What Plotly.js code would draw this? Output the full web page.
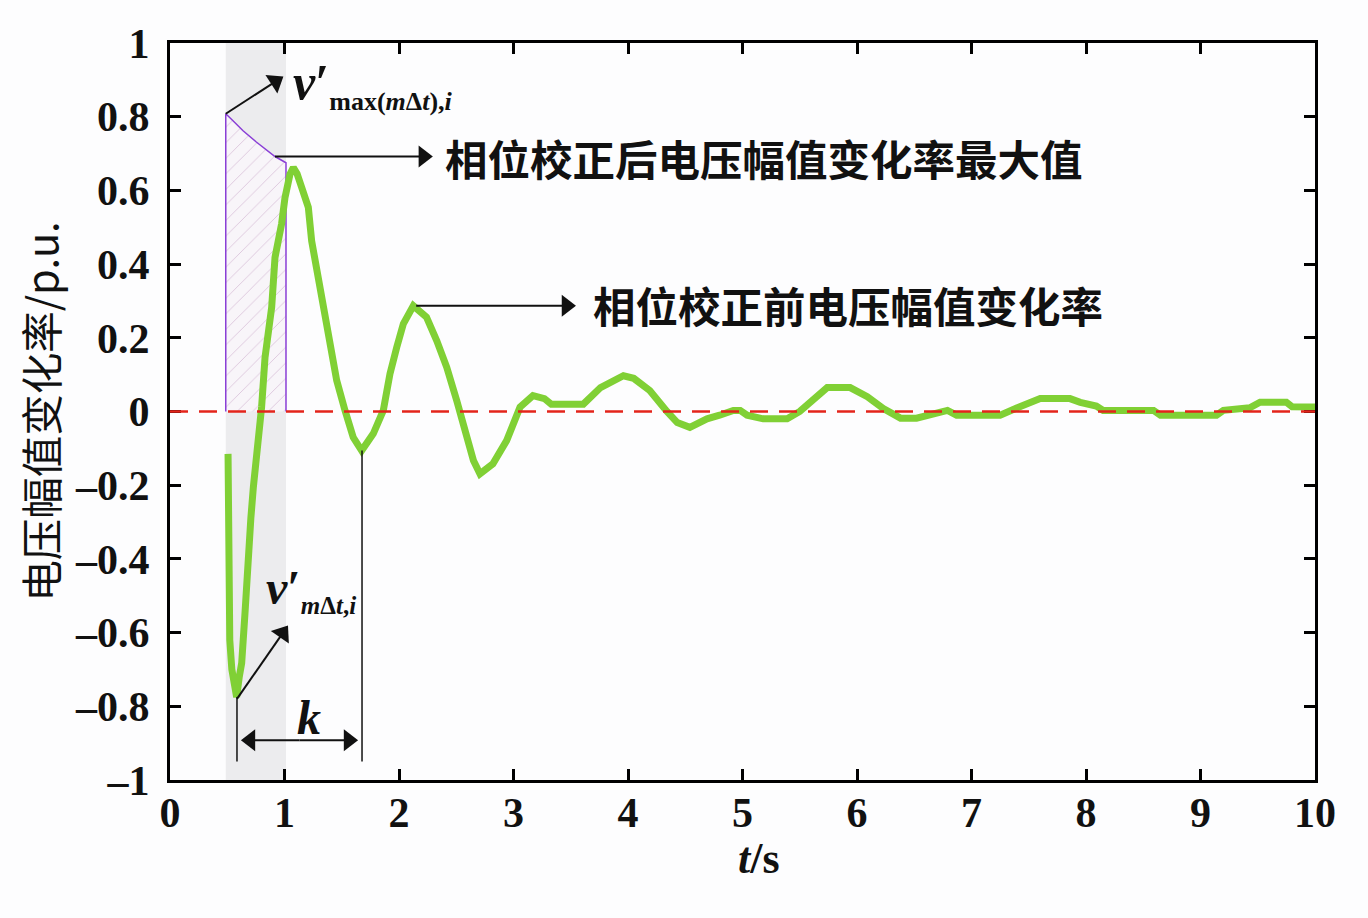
<!DOCTYPE html>
<html>
<head>
<meta charset="utf-8">
<script src="https://cdn.plot.ly/plotly-3.0.1.min.js"></script>
<style>html,body{margin:0;padding:0;background:#fdfdfe;}</style>
</head>
<body>
<div id="chart" style="width:1368px;height:918px;"></div>
<script>
// Voltage amplitude change rate (before phase correction)
const timeS = [0.507,0.512,0.517,0.522,0.54,0.565,0.582,0.605,0.626,0.655,0.684,0.706,0.728,0.757,0.78,0.80,0.83,0.888,0.917,0.945,0.975,1.004,1.048,1.077,1.11,1.15,1.208,1.237,1.31,1.383,1.456,1.528,1.60,1.674,1.776,1.863,1.921,1.98,2.038,2.125,2.24,2.33,2.417,2.504,2.59,2.65,2.707,2.82,2.94,3.057,3.17,3.27,3.33,3.61,3.76,3.96,4.05,4.19,4.34,4.43,4.54,4.69,4.80,4.92,4.98,5.04,5.18,5.39,5.50,5.74,5.94,6.09,6.23,6.38,6.52,6.72,6.79,6.87,7.25,7.40,7.60,7.86,7.95,8.09,8.15,8.59,8.65,9.14,9.20,9.43,9.52,9.75,9.80,10.0];
const rateBefore = [-0.115,-0.30,-0.50,-0.62,-0.70,-0.76,-0.775,-0.72,-0.683,-0.547,-0.368,-0.29,-0.205,-0.124,-0.06,0.012,0.147,0.283,0.418,0.46,0.51,0.58,0.644,0.662,0.645,0.608,0.554,0.463,0.328,0.192,0.084,0.003,-0.07,-0.106,-0.06,0.003,0.102,0.174,0.238,0.287,0.256,0.192,0.12,0.03,-0.06,-0.133,-0.169,-0.142,-0.079,0.012,0.043,0.035,0.02,0.02,0.065,0.097,0.09,0.057,0.0,-0.03,-0.043,-0.02,-0.01,0.003,0.003,-0.01,-0.02,-0.02,0.0,0.065,0.065,0.04,0.008,-0.018,-0.018,-0.005,0.003,-0.01,-0.01,0.01,0.035,0.035,0.025,0.015,0.003,0.003,-0.01,-0.01,0.003,0.01,0.025,0.025,0.013,0.012];

// Corrected max-rate curve (hatched region top edge)
const windowT = [0.487,0.487,0.55,0.638,0.751,0.838,0.917,1.013,1.013];
const windowV = [0,0.808,0.789,0.762,0.732,0.710,0.692,0.675,0];

// Window (shaded band) and marker positions
const bandT = [0.487, 1.013];
const troughT = 0.585, troughV = -0.775;
const secondTroughT = 1.677, secondTroughV = -0.106;
const secondPeakT = 2.15, secondPeakV = 0.287;
const kLevel = -0.892, kMid = 1.13;

// Arrow callouts: [tailT, tailV, headT, headV]
const arrowMax = [0.487, 0.808, 1.019, 0.915];
const arrowAfter = [0.917, 0.692, 2.33, 0.692];
const arrowBefore = [secondPeakT, secondPeakV, 3.58, 0.287];
const arrowTrough = [troughT, troughV - 0.005, 1.05, -0.572];
const arrowKLeft = [kMid, kLevel, troughT, kLevel];
const arrowKRight = [kMid, kLevel, secondTroughT, kLevel];

const xTicks = [0,1,2,3,4,5,6,7,8,9,10];
const yTicks = [-1,-0.8,-0.6,-0.4,-0.2,0,0.2,0.4,0.6,0.8,1];
const yTickText = ['–1','–0.8','–0.6','–0.4','–0.2','0','0.2','0.4','0.6','0.8','1'];

const labelAfter = '相位校正后电压幅值变化率最大值';
const labelBefore = '相位校正前电压幅值变化率';
const yTitle = '电压幅值变化率/p.u.';

const serif = 'Liberation Serif, Times New Roman, serif';
const cjk = 'Noto Sans CJK SC, sans-serif';

// plot geometry (for arrowhead placement only)
const W = 1368, H = 918, M = {l: 170, r: 53, t: 43, b: 138};
const xRange = [0, 10], yRange = [-1, 1];
const pxPerX = (W - M.l - M.r) / (xRange[1] - xRange[0]);
const pxPerY = (H - M.t - M.b) / (yRange[1] - yRange[0]);
const headR = 9.5;                // triangle marker "radius"
const tipOffset = headR * Math.SQRT2; // distance from marker centre to tip

function arrowTrace(a) {
  const dxp = (a[2] - a[0]) * pxPerX, dyp = (a[3] - a[1]) * pxPerY;
  const len = Math.hypot(dxp, dyp);
  const ux = dxp / len, uy = dyp / len;
  const px = a[2] - ux * tipOffset / pxPerX;
  const py = a[3] - uy * tipOffset / pxPerY;
  return {
    x: [a[0], px], y: [a[1], py], type: 'scatter', mode: 'lines+markers',
    line: {color: '#111', width: 2},
    marker: {symbol: ['circle', 'triangle-up'], size: [0, headR * 2], angleref: 'previous',
             color: '#111', opacity: 1, line: {width: 0}},
    cliponaxis: false, hoverinfo: 'skip', showlegend: false
  };
}

const traces = [
  {
    x: windowT, y: windowV, type: 'scatter', mode: 'lines',
    fill: 'toself', fillcolor: 'rgba(248,245,250,1)',
    fillpattern: {shape: '/', fgcolor: '#dcc4dc', bgcolor: '#f8f5f9', size: 11, solidity: 0.08},
    line: {color: '#8a3fd6', width: 1.5}, hoverinfo: 'skip', showlegend: false
  },
  {
    x: timeS, y: rateBefore, type: 'scatter', mode: 'lines',
    line: {color: '#80d035', width: 7}, showlegend: false
  },
  arrowTrace(arrowMax), arrowTrace(arrowAfter), arrowTrace(arrowBefore),
  arrowTrace(arrowTrough), arrowTrace(arrowKLeft), arrowTrace(arrowKRight)
];

const annotations = [
  {xref: 'x', yref: 'y', x: 2.38, y: 0.69, xanchor: 'left', yanchor: 'middle', showarrow: false,
   text: '<b>' + labelAfter + '</b>', font: {family: cjk, size: 42.5, color: '#111'}},
  {xref: 'x', yref: 'y', x: 3.68, y: 0.29, xanchor: 'left', yanchor: 'middle', showarrow: false,
   text: '<b>' + labelBefore + '</b>', font: {family: cjk, size: 42.5, color: '#111'}},
  {xref: 'x', yref: 'y', x: 1.06, y: 0.885, xanchor: 'left', yanchor: 'middle', showarrow: false,
   text: '<b><i>v</i>′<sub><span style="font-size:26px">max(<i>m</i>Δ<i>t</i>),<i>i</i></span></sub></b>',
   font: {family: serif, size: 50, color: '#111'}},
  {xref: 'x', yref: 'y', x: 0.82, y: -0.485, xanchor: 'left', yanchor: 'middle', showarrow: false,
   text: '<b><i>v</i>′<sub><span style="font-size:25px"><i>m</i>Δ<i>t</i>,<i>i</i></span></sub></b>',
   font: {family: serif, size: 48, color: '#111'}},
  {xref: 'x', yref: 'y', x: 1.214, y: -0.83, xanchor: 'center', yanchor: 'middle', showarrow: false,
   text: '<b><i>k</i></b>', font: {family: serif, size: 48, color: '#111'}},
  {xref: 'paper', yref: 'paper', x: 0.514, y: -0.106, xanchor: 'center', yanchor: 'middle', showarrow: false,
   text: '<b><i>t</i>/s</b>', font: {family: serif, size: 44, color: '#111'}}
];

const shapes = [
  {type: 'rect', xref: 'x', yref: 'paper', x0: bandT[0], x1: bandT[1], y0: 0, y1: 1,
   fillcolor: '#ececee', line: {width: 0}, layer: 'below'},
  {type: 'line', xref: 'x', yref: 'y', x0: troughT, x1: troughT, y0: troughV, y1: -0.95,
   line: {color: '#111', width: 1.5}},
  {type: 'line', xref: 'x', yref: 'y', x0: secondTroughT, x1: secondTroughT, y0: secondTroughV, y1: -0.95,
   line: {color: '#111', width: 1.5}},
  {type: 'line', xref: 'paper', yref: 'y', x0: 0, x1: 1, y0: 0, y1: 0,
   line: {color: '#e3241b', width: 2.5, dash: '18px,11px'}, layer: 'above'}
];

const axisCommon = {
  showline: true, linecolor: '#000', linewidth: 3, mirror: 'ticks',
  ticks: 'inside', ticklen: 11, tickwidth: 3, tickcolor: '#000',
  showgrid: false, zeroline: false,
  tickfont: {family: serif, size: 42, color: '#111', weight: 'bold'}
};

const layout = {
  width: W, height: H,
  margin: M,
  paper_bgcolor: '#fdfdfe', plot_bgcolor: '#fdfdfe',
  showlegend: false,
  xaxis: Object.assign({}, axisCommon, {
    range: xRange, tickvals: xTicks, ticktext: xTicks.map(String), ticklabelstandoff: -6
  }),
  yaxis: Object.assign({}, axisCommon, {
    range: yRange, tickvals: yTicks, ticktext: yTickText, ticklabelstandoff: 9,
    title: {text: yTitle, font: {family: cjk, size: 41.5, color: '#111'}, standoff: 4}
  }),
  annotations: annotations,
  shapes: shapes
};

function dropEmptyTexts() {
  document.querySelectorAll('text').forEach(function (t) {
    let empty = !t.textContent || !t.textContent.trim();
    if (!empty) {
      try { const b = t.getBBox(); empty = (b.width === 0 || b.height === 0); } catch (e) {}
    }
    if (empty && t.parentNode) t.parentNode.removeChild(t);
  });
}

Plotly.newPlot('chart', traces, layout, {displayModeBar: false, staticPlot: true}).then(function () {
  dropEmptyTexts();
  setTimeout(dropEmptyTexts, 50);
});
</script>
</body>
</html>
